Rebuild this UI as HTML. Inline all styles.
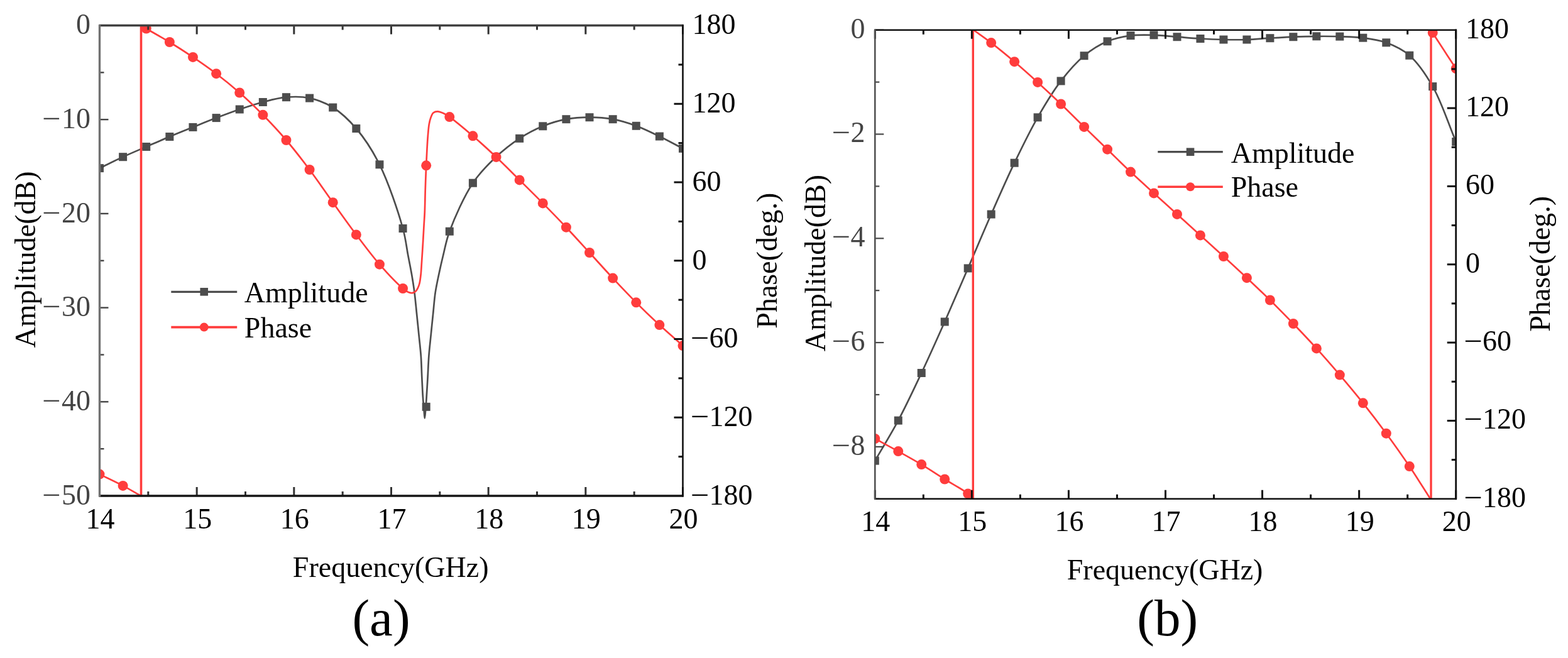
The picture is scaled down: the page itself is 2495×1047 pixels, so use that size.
<!DOCTYPE html>
<html><head><meta charset="utf-8"><title>Amplitude and Phase</title>
<style>html,body{margin:0;padding:0;background:#fff;}body{width:2495px;height:1047px;overflow:hidden;}svg{display:block;}</style></head><body>
<svg width="2495" height="1047" viewBox="0 0 2495 1047">
<rect width="2495" height="1047" fill="#fff"/>
<defs>
<clipPath id="ca"><rect x="158.5" y="40.5" width="928" height="748.5"/></clipPath>
<clipPath id="cb"><rect x="1392.3" y="47.7" width="924.4" height="746.1"/></clipPath>
</defs>
<g clip-path="url(#ca)" fill="none" stroke-linejoin="round" stroke-linecap="round">
<path d="M158.5,267.6 C170.87,261.63 183.19,255.41 195.62,249.7 C207.94,244.04 220.36,238.87 232.74,233.5 C245.11,228.14 257.46,222.69 269.86,217.5 C282.21,212.33 294.6,207.39 306.98,202.4 C319.34,197.42 331.69,192.35 344.1,187.6 C356.44,182.88 368.79,178.2 381.22,174 C393.54,169.84 405.89,165.73 418.34,162.5 C430.64,159.31 443.02,155.76 455.46,154.7 C467.77,153.65 480.43,153.51 492.58,156.1 C505.19,158.78 517.94,163.66 529.7,171 C542.84,179.2 555.27,190.95 566.82,204.5 C580.32,220.34 592.69,239.24 603.94,261.8 C618.1,290.21 633.64,336.68 641.06,363.5 C645.74,380.42 646.73,392.93 649.2,405.8 C651.27,416.6 653.18,425.65 654.9,435.6 C656.61,445.52 658.18,455.27 659.5,465.4 C660.86,475.89 661.77,486.61 662.9,497.5 C664.07,508.77 665.25,520.43 666.4,531.9 C667.55,543.37 668.98,554.88 669.8,566.3 C670.61,577.58 670.77,588.95 671.3,600 C671.81,610.7 672.27,622.22 672.9,631.6 C673.41,639.15 674.07,645.9 674.6,652 C675.03,656.96 675.37,665.5 675.8,665.5 C676.23,665.5 676.76,656.97 677.2,652 C677.74,645.9 678.2,639.14 678.7,631.6 C679.33,622.22 679.99,610.7 680.6,600 C681.23,588.95 681.54,577.58 682.4,566.3 C683.27,554.88 684.65,543.37 685.8,531.9 C686.95,520.43 688.13,508.77 689.3,497.5 C690.43,486.61 691.13,475.87 692.7,465.4 C694.22,455.25 696.4,445.52 698.5,435.6 C700.6,425.65 702.71,416.29 705.3,405.8 C708.22,393.97 709.95,382.66 715.3,368.2 C723.24,346.77 738.42,312.18 752.42,291.2 C763.73,274.24 776.6,261.67 789.54,249.5 C801.44,238.3 813.9,228.57 826.66,220.3 C838.69,212.5 851.15,205.95 863.78,200.8 C875.92,195.85 888.4,192.05 900.9,189.7 C913.15,187.4 925.65,186.7 938.02,186.7 C950.39,186.7 962.88,187.48 975.14,189.7 C987.63,191.96 1000.05,195.84 1012.26,200.3 C1024.8,204.88 1037.09,211.05 1049.38,217 C1061.84,223.04 1074.13,229.87 1086.5,236.3" stroke="#4d4d4d" stroke-width="2.7"/>
<g fill="#4d4d4d" stroke="none"><rect x="152" y="261.1" width="13" height="13"/><rect x="189.12" y="243.2" width="13" height="13"/><rect x="226.24" y="227" width="13" height="13"/><rect x="263.36" y="211" width="13" height="13"/><rect x="300.48" y="195.9" width="13" height="13"/><rect x="337.6" y="181.1" width="13" height="13"/><rect x="374.72" y="167.5" width="13" height="13"/><rect x="411.84" y="156" width="13" height="13"/><rect x="448.96" y="148.2" width="13" height="13"/><rect x="486.08" y="149.6" width="13" height="13"/><rect x="523.2" y="164.5" width="13" height="13"/><rect x="560.32" y="198" width="13" height="13"/><rect x="597.44" y="255.3" width="13" height="13"/><rect x="634.56" y="357" width="13" height="13"/><rect x="671.68" y="640.8" width="13" height="13"/><rect x="708.8" y="361.7" width="13" height="13"/><rect x="745.92" y="284.7" width="13" height="13"/><rect x="783.04" y="243" width="13" height="13"/><rect x="820.16" y="213.8" width="13" height="13"/><rect x="857.28" y="194.3" width="13" height="13"/><rect x="894.4" y="183.2" width="13" height="13"/><rect x="931.52" y="180.2" width="13" height="13"/><rect x="968.64" y="183.2" width="13" height="13"/><rect x="1005.76" y="193.8" width="13" height="13"/><rect x="1042.88" y="210.5" width="13" height="13"/><rect x="1080" y="229.8" width="13" height="13"/></g>
<path d="M158.5,754.6 C170.87,760.7 184.16,766.83 195.62,772.9 C205.8,778.29 214.54,783.63 224,789" stroke="#ff3c3c" stroke-width="2.7"/>
<path d="M224.5,789 V40.5" stroke="#ff3c3c" stroke-width="3.6" stroke-linecap="butt"/>
<path d="M225,40.5 C227.58,42.17 229.16,43.31 232.74,45.5 C240.46,50.23 257.57,59.49 269.86,67 C282.32,74.62 294.7,82.6 306.98,90.9 C319.45,99.32 331.88,107.9 344.1,117.2 C356.64,126.74 369.05,136.77 381.22,147.5 C393.81,158.59 406.16,170.44 418.34,182.8 C430.92,195.57 443.35,208.83 455.46,223 C468.13,237.82 480.41,253.76 492.58,270 C505.17,286.79 517.29,304.91 529.7,322.2 C542.03,339.38 554.29,356.79 566.82,373.4 C579.04,389.6 591.17,406.07 603.94,420.7 C615.96,434.48 632.65,451.97 641.06,459 C644.84,462.16 647.21,463.84 650,465 C652.11,465.88 654.08,466.45 656,466.2 C657.92,465.95 660.01,464.83 661.5,463.5 C663.03,462.13 664.02,460 665,458 C666.05,455.86 666.8,453.77 667.5,451 C668.46,447.17 669.04,442.08 669.6,437 C670.26,431 670.5,424.78 671,417.3 C671.67,407.42 672.57,393.44 673.2,382.9 C673.74,373.93 674.15,365.89 674.6,358 C675.01,350.86 675.47,345.43 675.8,337.6 C676.25,326.97 676.4,312.46 676.8,300 C677.2,287.69 677.69,274.53 678.18,263.3 C678.6,253.78 679.03,245.09 679.5,236.9 C679.91,229.77 680.24,223.51 680.8,216.9 C681.35,210.38 681.82,202.95 682.8,197.5 C683.53,193.44 684.28,190.14 685.5,187 C686.58,184.22 687.58,181.09 689.5,179.5 C691.25,178.05 693.78,177.41 696.2,177.4 C699.07,177.39 702.52,178.93 705.6,180.3 C708.9,181.77 711.16,183.2 715.3,186.1 C723.82,192.07 740.18,205.8 752.42,216.3 C764.94,227.04 777.28,238.34 789.54,249.9 C802.04,261.69 814.31,274.17 826.66,286.4 C839.05,298.67 851.46,310.91 863.78,323.4 C876.21,336 888.61,348.69 900.9,361.7 C913.36,374.88 925.66,388.53 938.02,402 C950.41,415.5 962.69,429.3 975.14,442.6 C987.44,455.73 999.76,468.77 1012.26,481.3 C1024.51,493.59 1036.89,505.53 1049.38,517.1 C1061.64,528.45 1074.13,539.1 1086.5,550.1" stroke="#ff3c3c" stroke-width="2.7"/>
<g fill="#ff3c3c" stroke="none"><circle cx="158.5" cy="754.6" r="8.0"/><circle cx="195.62" cy="772.9" r="8.0"/><circle cx="232.74" cy="45.5" r="8.0"/><circle cx="269.86" cy="67" r="8.0"/><circle cx="306.98" cy="90.9" r="8.0"/><circle cx="344.1" cy="117.2" r="8.0"/><circle cx="381.22" cy="147.5" r="8.0"/><circle cx="418.34" cy="182.8" r="8.0"/><circle cx="455.46" cy="223" r="8.0"/><circle cx="492.58" cy="270" r="8.0"/><circle cx="529.7" cy="322.2" r="8.0"/><circle cx="566.82" cy="373.4" r="8.0"/><circle cx="603.94" cy="420.7" r="8.0"/><circle cx="641.06" cy="459" r="8.0"/><circle cx="678.18" cy="263.3" r="8.0"/><circle cx="715.3" cy="186.1" r="8.0"/><circle cx="752.42" cy="216.3" r="8.0"/><circle cx="789.54" cy="249.9" r="8.0"/><circle cx="826.66" cy="286.4" r="8.0"/><circle cx="863.78" cy="323.4" r="8.0"/><circle cx="900.9" cy="361.7" r="8.0"/><circle cx="938.02" cy="402" r="8.0"/><circle cx="975.14" cy="442.6" r="8.0"/><circle cx="1012.26" cy="481.3" r="8.0"/><circle cx="1049.38" cy="517.1" r="8.0"/><circle cx="1086.5" cy="550.1" r="8.0"/></g>
</g>
<g clip-path="url(#cb)" fill="none" stroke-linejoin="round" stroke-linecap="round">
<path d="M1392.3,733.1 C1404.63,711.77 1417.33,691.54 1429.28,669.1 C1442.03,645.16 1454.11,619.26 1466.25,593.5 C1478.77,566.93 1491.01,539.51 1503.23,512 C1515.67,483.99 1527.9,455.34 1540.2,426.9 C1552.55,398.34 1564.73,369.23 1577.18,341 C1589.38,313.34 1601.51,285.49 1614.16,259.2 C1626.19,234.18 1638.24,209.3 1651.13,186.8 C1662.98,166.12 1674.99,145.94 1688.11,128.9 C1699.8,113.7 1711.97,99.54 1725.08,88.7 C1736.78,79.03 1749.3,71.18 1762.06,65.8 C1774,60.76 1786.62,58.26 1799.04,56.6 C1811.27,54.97 1823.7,55.45 1836.01,55.8 C1848.35,56.15 1860.66,57.75 1872.99,58.7 C1885.31,59.65 1897.63,60.78 1909.96,61.5 C1922.28,62.22 1934.61,62.75 1946.94,63 C1959.26,63.25 1971.6,63.38 1983.92,63 C1996.25,62.62 2008.57,61.42 2020.89,60.7 C2033.22,59.98 2045.54,59.18 2057.87,58.7 C2070.19,58.22 2082.52,57.9 2094.84,57.8 C2107.17,57.7 2119.5,57.7 2131.82,58.1 C2144.15,58.5 2156.53,58.6 2168.8,60.2 C2181.18,61.82 2193.77,63.37 2205.77,67.8 C2218.46,72.48 2231.39,78.31 2242.75,88.2 C2256.48,100.15 2268.47,117.97 2279.72,137.6 C2293.71,162.01 2304.37,196.2 2316.7,225.5" stroke="#4d4d4d" stroke-width="2.7"/>
<g fill="#4d4d4d" stroke="none"><rect x="1385.8" y="726.6" width="13" height="13"/><rect x="1422.78" y="662.6" width="13" height="13"/><rect x="1459.75" y="587" width="13" height="13"/><rect x="1496.73" y="505.5" width="13" height="13"/><rect x="1533.7" y="420.4" width="13" height="13"/><rect x="1570.68" y="334.5" width="13" height="13"/><rect x="1607.66" y="252.7" width="13" height="13"/><rect x="1644.63" y="180.3" width="13" height="13"/><rect x="1681.61" y="122.4" width="13" height="13"/><rect x="1718.58" y="82.2" width="13" height="13"/><rect x="1755.56" y="59.3" width="13" height="13"/><rect x="1792.54" y="50.1" width="13" height="13"/><rect x="1829.51" y="49.3" width="13" height="13"/><rect x="1866.49" y="52.2" width="13" height="13"/><rect x="1903.46" y="55" width="13" height="13"/><rect x="1940.44" y="56.5" width="13" height="13"/><rect x="1977.42" y="56.5" width="13" height="13"/><rect x="2014.39" y="54.2" width="13" height="13"/><rect x="2051.37" y="52.2" width="13" height="13"/><rect x="2088.34" y="51.3" width="13" height="13"/><rect x="2125.32" y="51.6" width="13" height="13"/><rect x="2162.3" y="53.7" width="13" height="13"/><rect x="2199.27" y="61.3" width="13" height="13"/><rect x="2236.25" y="81.7" width="13" height="13"/><rect x="2273.22" y="131.1" width="13" height="13"/><rect x="2310.2" y="219" width="13" height="13"/></g>
<path d="M1392.3,698 C1404.63,704.7 1416.98,711.27 1429.28,718.1 C1441.63,724.97 1454.01,731.76 1466.25,739.1 C1478.67,746.55 1490.89,754.74 1503.23,762.5 C1515.54,770.24 1532.98,779.37 1540.2,785.6 C1543.8,788.7 1544.87,791.07 1547.2,793.8" stroke="#ff3c3c" stroke-width="2.7"/>
<path d="M1548.3,793.8 V47.7" stroke="#ff3c3c" stroke-width="3.4" stroke-linecap="butt"/>
<path d="M1549,47.7 C1558.39,54.5 1567.26,60.48 1577.18,68.1 C1588.79,77.02 1601.94,87.83 1614.16,98.2 C1626.59,108.75 1638.88,119.76 1651.13,130.9 C1663.54,142.19 1675.86,153.74 1688.11,165.5 C1700.51,177.4 1712.73,189.84 1725.08,201.9 C1737.38,213.91 1749.74,225.75 1762.06,237.7 C1774.39,249.65 1786.62,261.9 1799.04,273.6 C1811.28,285.13 1823.67,296.17 1836.01,307.4 C1848.32,318.61 1860.66,329.73 1872.99,340.9 C1885.31,352.07 1897.64,363.22 1909.96,374.4 C1922.29,385.59 1934.64,396.72 1946.94,408 C1959.29,419.32 1971.64,430.66 1983.92,442.2 C1996.29,453.83 2008.66,465.46 2020.89,477.5 C2033.31,489.72 2045.62,502.27 2057.87,515 C2070.27,527.9 2082.63,540.93 2094.84,554.4 C2107.29,568.12 2119.6,582.24 2131.82,596.6 C2144.25,611.2 2156.62,625.98 2168.8,641.3 C2181.28,657 2193.6,673.13 2205.77,689.7 C2218.26,706.7 2230.93,724.56 2242.75,742.1 C2254.32,759.27 2264.92,776.57 2276,793.8" stroke="#ff3c3c" stroke-width="2.7"/>
<path d="M2277,793.8 V47.7" stroke="#ff3c3c" stroke-width="3.4" stroke-linecap="butt"/>
<path d="M2277.6,47.7 C2278.31,49.13 2278.48,49.81 2279.72,52 C2284.42,60.26 2304.37,90.07 2316.7,109.1" stroke="#ff3c3c" stroke-width="2.7"/>
<g fill="#ff3c3c" stroke="none"><circle cx="1392.3" cy="698" r="8.0"/><circle cx="1429.28" cy="718.1" r="8.0"/><circle cx="1466.25" cy="739.1" r="8.0"/><circle cx="1503.23" cy="762.5" r="8.0"/><circle cx="1540.2" cy="785.6" r="8.0"/><circle cx="1577.18" cy="68.1" r="8.0"/><circle cx="1614.16" cy="98.2" r="8.0"/><circle cx="1651.13" cy="130.9" r="8.0"/><circle cx="1688.11" cy="165.5" r="8.0"/><circle cx="1725.08" cy="201.9" r="8.0"/><circle cx="1762.06" cy="237.7" r="8.0"/><circle cx="1799.04" cy="273.6" r="8.0"/><circle cx="1836.01" cy="307.4" r="8.0"/><circle cx="1872.99" cy="340.9" r="8.0"/><circle cx="1909.96" cy="374.4" r="8.0"/><circle cx="1946.94" cy="408" r="8.0"/><circle cx="1983.92" cy="442.2" r="8.0"/><circle cx="2020.89" cy="477.5" r="8.0"/><circle cx="2057.87" cy="515" r="8.0"/><circle cx="2094.84" cy="554.4" r="8.0"/><circle cx="2131.82" cy="596.6" r="8.0"/><circle cx="2168.8" cy="641.3" r="8.0"/><circle cx="2205.77" cy="689.7" r="8.0"/><circle cx="2242.75" cy="742.1" r="8.0"/><circle cx="2279.72" cy="52" r="8.0"/><circle cx="2316.7" cy="109.1" r="8.0"/></g>
</g>
<path d="M158.5,789 V775 M158.5,40.5 V54.5" stroke="#333" stroke-width="3"/>
<path d="M235.83,789 V782 M235.83,40.5 V47.5" stroke="#333" stroke-width="3"/>
<path d="M313.17,789 V775 M313.17,40.5 V54.5" stroke="#333" stroke-width="3"/>
<path d="M390.5,789 V782 M390.5,40.5 V47.5" stroke="#333" stroke-width="3"/>
<path d="M467.83,789 V775 M467.83,40.5 V54.5" stroke="#333" stroke-width="3"/>
<path d="M545.17,789 V782 M545.17,40.5 V47.5" stroke="#333" stroke-width="3"/>
<path d="M622.5,789 V775 M622.5,40.5 V54.5" stroke="#333" stroke-width="3"/>
<path d="M699.83,789 V782 M699.83,40.5 V47.5" stroke="#333" stroke-width="3"/>
<path d="M777.17,789 V775 M777.17,40.5 V54.5" stroke="#333" stroke-width="3"/>
<path d="M854.5,789 V782 M854.5,40.5 V47.5" stroke="#333" stroke-width="3"/>
<path d="M931.83,789 V775 M931.83,40.5 V54.5" stroke="#333" stroke-width="3"/>
<path d="M1009.17,789 V782 M1009.17,40.5 V47.5" stroke="#333" stroke-width="3"/>
<path d="M1086.5,789 V775 M1086.5,40.5 V54.5" stroke="#333" stroke-width="3"/>
<path d="M1086.5,102.88 H1079.5" stroke="#111" stroke-width="3"/>
<path d="M1086.5,165.25 H1072.5" stroke="#111" stroke-width="3"/>
<path d="M1086.5,227.62 H1079.5" stroke="#111" stroke-width="3"/>
<path d="M1086.5,290 H1072.5" stroke="#111" stroke-width="3"/>
<path d="M1086.5,352.38 H1079.5" stroke="#111" stroke-width="3"/>
<path d="M1086.5,414.75 H1072.5" stroke="#111" stroke-width="3"/>
<path d="M1086.5,477.12 H1079.5" stroke="#111" stroke-width="3"/>
<path d="M1086.5,539.5 H1072.5" stroke="#111" stroke-width="3"/>
<path d="M1086.5,601.88 H1079.5" stroke="#111" stroke-width="3"/>
<path d="M1086.5,664.25 H1072.5" stroke="#111" stroke-width="3"/>
<path d="M1086.5,726.62 H1079.5" stroke="#111" stroke-width="3"/>
<path d="M158.5,40.5 H172.5" stroke="#444" stroke-width="2.4"/>
<path d="M158.5,190.2 H172.5" stroke="#444" stroke-width="2.4"/>
<path d="M158.5,339.9 H172.5" stroke="#444" stroke-width="2.4"/>
<path d="M158.5,489.6 H172.5" stroke="#444" stroke-width="2.4"/>
<path d="M158.5,639.3 H172.5" stroke="#444" stroke-width="2.4"/>
<path d="M158.5,789 H172.5" stroke="#444" stroke-width="2.4"/>
<path d="M158.5,115.35 H165.5" stroke="#444" stroke-width="2.4"/>
<path d="M158.5,265.05 H165.5" stroke="#444" stroke-width="2.4"/>
<path d="M158.5,414.75 H165.5" stroke="#444" stroke-width="2.4"/>
<path d="M158.5,564.45 H165.5" stroke="#444" stroke-width="2.4"/>
<path d="M158.5,714.15 H165.5" stroke="#444" stroke-width="2.4"/>
<path d="M157.5,40.5 H1087.7" stroke="#404040" stroke-width="3.4"/>
<path d="M157.5,789 H1087.7" stroke="#151515" stroke-width="3.6"/>
<path d="M1086.5,39.3 V790.5" stroke="#111" stroke-width="2.6"/>
<path d="M158.5,39.3 V790.5" stroke="#727272" stroke-width="3.4"/>
<path d="M1392.3,793.8 V779.8 M1392.3,47.7 V61.7" stroke="#111" stroke-width="3"/>
<path d="M1469.33,793.8 V786.8 M1469.33,47.7 V54.7" stroke="#111" stroke-width="3"/>
<path d="M1546.37,793.8 V779.8 M1546.37,47.7 V61.7" stroke="#111" stroke-width="3"/>
<path d="M1623.4,793.8 V786.8 M1623.4,47.7 V54.7" stroke="#111" stroke-width="3"/>
<path d="M1700.43,793.8 V779.8 M1700.43,47.7 V61.7" stroke="#111" stroke-width="3"/>
<path d="M1777.47,793.8 V786.8 M1777.47,47.7 V54.7" stroke="#111" stroke-width="3"/>
<path d="M1854.5,793.8 V779.8 M1854.5,47.7 V61.7" stroke="#111" stroke-width="3"/>
<path d="M1931.53,793.8 V786.8 M1931.53,47.7 V54.7" stroke="#111" stroke-width="3"/>
<path d="M2008.57,793.8 V779.8 M2008.57,47.7 V61.7" stroke="#111" stroke-width="3"/>
<path d="M2085.6,793.8 V786.8 M2085.6,47.7 V54.7" stroke="#111" stroke-width="3"/>
<path d="M2162.63,793.8 V779.8 M2162.63,47.7 V61.7" stroke="#111" stroke-width="3"/>
<path d="M2239.67,793.8 V786.8 M2239.67,47.7 V54.7" stroke="#111" stroke-width="3"/>
<path d="M2316.7,793.8 V779.8 M2316.7,47.7 V61.7" stroke="#111" stroke-width="3"/>
<path d="M2316.7,109.88 H2309.7" stroke="#111" stroke-width="3"/>
<path d="M2316.7,172.05 H2302.7" stroke="#111" stroke-width="3"/>
<path d="M2316.7,234.22 H2309.7" stroke="#111" stroke-width="3"/>
<path d="M2316.7,296.4 H2302.7" stroke="#111" stroke-width="3"/>
<path d="M2316.7,358.57 H2309.7" stroke="#111" stroke-width="3"/>
<path d="M2316.7,420.75 H2302.7" stroke="#111" stroke-width="3"/>
<path d="M2316.7,482.92 H2309.7" stroke="#111" stroke-width="3"/>
<path d="M2316.7,545.1 H2302.7" stroke="#111" stroke-width="3"/>
<path d="M2316.7,607.27 H2309.7" stroke="#111" stroke-width="3"/>
<path d="M2316.7,669.45 H2302.7" stroke="#111" stroke-width="3"/>
<path d="M2316.7,731.62 H2309.7" stroke="#111" stroke-width="3"/>
<path d="M1392.3,47.7 H1406.3" stroke="#484848" stroke-width="2.2"/>
<path d="M1392.3,213.5 H1406.3" stroke="#484848" stroke-width="2.2"/>
<path d="M1392.3,379.3 H1406.3" stroke="#484848" stroke-width="2.2"/>
<path d="M1392.3,545.1 H1406.3" stroke="#484848" stroke-width="2.2"/>
<path d="M1392.3,710.9 H1406.3" stroke="#484848" stroke-width="2.2"/>
<path d="M1392.3,130.6 H1399.3" stroke="#484848" stroke-width="2.2"/>
<path d="M1392.3,296.4 H1399.3" stroke="#484848" stroke-width="2.2"/>
<path d="M1392.3,462.2 H1399.3" stroke="#484848" stroke-width="2.2"/>
<path d="M1392.3,628 H1399.3" stroke="#484848" stroke-width="2.2"/>
<path d="M1392.3,793.8 H1399.3" stroke="#484848" stroke-width="2.2"/>
<path d="M1391.3,47.7 H2317.9" stroke="#111" stroke-width="2.6"/>
<path d="M1391.3,793.8 H2317.9" stroke="#111" stroke-width="2.6"/>
<path d="M2316.7,46.5 V795.3" stroke="#111" stroke-width="2.8"/>
<path d="M1392.3,46.5 V795.3" stroke="#525252" stroke-width="2.6"/>
<path d="M272.3,464.3 H377.2" stroke="#4d4d4d" stroke-width="3.3"/>
<rect x="318.45" y="458" width="12.6" height="12.6" fill="#4d4d4d"/>
<path d="M272.3,520.6 H377.2" stroke="#ff3c3c" stroke-width="3.6"/>
<circle cx="324.75" cy="520.6" r="7" fill="#ff3c3c"/>
<path d="M1842.3,241.7 H1945.8" stroke="#4d4d4d" stroke-width="3.3"/>
<rect x="1887.75" y="235.4" width="12.6" height="12.6" fill="#4d4d4d"/>
<path d="M1842.3,297.2 H1945.8" stroke="#ff3c3c" stroke-width="3.6"/>
<circle cx="1894.05" cy="297.2" r="7" fill="#ff3c3c"/>
<g font-family="'Liberation Serif', 'Times New Roman', serif">
<text x="144" y="54.3" font-size="46" fill="#444" text-anchor="end">0</text>
<text x="144" y="204" font-size="46" fill="#444" text-anchor="end">10</text>
<text x="67.2" y="204" font-size="46" fill="#444" textLength="29.65" lengthAdjust="spacingAndGlyphs">−</text>
<text x="144" y="353.7" font-size="46" fill="#444" text-anchor="end">20</text>
<text x="67.2" y="353.7" font-size="46" fill="#444" textLength="29.65" lengthAdjust="spacingAndGlyphs">−</text>
<text x="144" y="503.4" font-size="46" fill="#444" text-anchor="end">30</text>
<text x="67.2" y="503.4" font-size="46" fill="#444" textLength="29.65" lengthAdjust="spacingAndGlyphs">−</text>
<text x="144" y="653.1" font-size="46" fill="#444" text-anchor="end">40</text>
<text x="67.2" y="653.1" font-size="46" fill="#444" textLength="29.65" lengthAdjust="spacingAndGlyphs">−</text>
<text x="144" y="802.8" font-size="46" fill="#444" text-anchor="end">50</text>
<text x="67.2" y="802.8" font-size="46" fill="#444" textLength="29.65" lengthAdjust="spacingAndGlyphs">−</text>
<text x="1101.5" y="54.3" font-size="46" fill="#000" text-anchor="start">180</text>
<text x="1101.5" y="179.05" font-size="46" fill="#000" text-anchor="start">120</text>
<text x="1101.5" y="303.8" font-size="46" fill="#000" text-anchor="start">60</text>
<text x="1101.5" y="428.55" font-size="46" fill="#000" text-anchor="start">0</text>
<text x="1128.45" y="553.3" font-size="46" fill="#000" text-anchor="start">60</text>
<text x="1099.1" y="553.3" font-size="46" fill="#000" textLength="29.65" lengthAdjust="spacingAndGlyphs">−</text>
<text x="1128.45" y="678.05" font-size="46" fill="#000" text-anchor="start">120</text>
<text x="1099.1" y="678.05" font-size="46" fill="#000" textLength="29.65" lengthAdjust="spacingAndGlyphs">−</text>
<text x="1128.45" y="802.8" font-size="46" fill="#000" text-anchor="start">180</text>
<text x="1099.1" y="802.8" font-size="46" fill="#000" textLength="29.65" lengthAdjust="spacingAndGlyphs">−</text>
<text x="159.5" y="841" font-size="46" fill="#000" text-anchor="middle">14</text>
<text x="314.17" y="841" font-size="46" fill="#000" text-anchor="middle">15</text>
<text x="468.83" y="841" font-size="46" fill="#000" text-anchor="middle">16</text>
<text x="623.5" y="841" font-size="46" fill="#000" text-anchor="middle">17</text>
<text x="778.17" y="841" font-size="46" fill="#000" text-anchor="middle">18</text>
<text x="932.83" y="841" font-size="46" fill="#000" text-anchor="middle">19</text>
<text x="1087.5" y="841" font-size="46" fill="#000" text-anchor="middle">20</text>
<text x="1376.5" y="60.5" font-size="46" fill="#444" text-anchor="end">0</text>
<text x="1376.5" y="226.3" font-size="46" fill="#444" text-anchor="end">2</text>
<text x="1323.7" y="226.3" font-size="46" fill="#444" textLength="29.65" lengthAdjust="spacingAndGlyphs">−</text>
<text x="1376.5" y="392.1" font-size="46" fill="#444" text-anchor="end">4</text>
<text x="1323.7" y="392.1" font-size="46" fill="#444" textLength="29.65" lengthAdjust="spacingAndGlyphs">−</text>
<text x="1376.5" y="557.9" font-size="46" fill="#444" text-anchor="end">6</text>
<text x="1323.7" y="557.9" font-size="46" fill="#444" textLength="29.65" lengthAdjust="spacingAndGlyphs">−</text>
<text x="1376.5" y="723.7" font-size="46" fill="#444" text-anchor="end">8</text>
<text x="1323.7" y="723.7" font-size="46" fill="#444" textLength="29.65" lengthAdjust="spacingAndGlyphs">−</text>
<text x="2332" y="60.5" font-size="46" fill="#000" text-anchor="start">180</text>
<text x="2332" y="184.85" font-size="46" fill="#000" text-anchor="start">120</text>
<text x="2332" y="309.2" font-size="46" fill="#000" text-anchor="start">60</text>
<text x="2332" y="433.55" font-size="46" fill="#000" text-anchor="start">0</text>
<text x="2358.95" y="557.9" font-size="46" fill="#000" text-anchor="start">60</text>
<text x="2329.6" y="557.9" font-size="46" fill="#000" textLength="29.65" lengthAdjust="spacingAndGlyphs">−</text>
<text x="2358.95" y="682.25" font-size="46" fill="#000" text-anchor="start">120</text>
<text x="2329.6" y="682.25" font-size="46" fill="#000" textLength="29.65" lengthAdjust="spacingAndGlyphs">−</text>
<text x="2358.95" y="806.6" font-size="46" fill="#000" text-anchor="start">180</text>
<text x="2329.6" y="806.6" font-size="46" fill="#000" textLength="29.65" lengthAdjust="spacingAndGlyphs">−</text>
<text x="1393.3" y="845" font-size="46" fill="#000" text-anchor="middle">14</text>
<text x="1547.37" y="845" font-size="46" fill="#000" text-anchor="middle">15</text>
<text x="1701.43" y="845" font-size="46" fill="#000" text-anchor="middle">16</text>
<text x="1855.5" y="845" font-size="46" fill="#000" text-anchor="middle">17</text>
<text x="2009.57" y="845" font-size="46" fill="#000" text-anchor="middle">18</text>
<text x="2163.63" y="845" font-size="46" fill="#000" text-anchor="middle">19</text>
<text x="2317.7" y="845" font-size="46" fill="#000" text-anchor="middle">20</text>
<text transform="translate(55.5,413) rotate(-90)" font-size="46" text-anchor="middle">Amplitude(dB)</text>
<text transform="translate(1235.5,414.7) rotate(-90)" font-size="46" text-anchor="middle">Phase(deg.)</text>
<text transform="translate(1312.5,418.6) rotate(-90)" font-size="46" text-anchor="middle">Amplitude(dB)</text>
<text transform="translate(2465.8,419.8) rotate(-90)" font-size="46" text-anchor="middle">Phase(deg.)</text>
<text x="621.7" y="918" font-size="46" fill="#000" text-anchor="middle">Frequency(GHz)</text>
<text x="1853.6" y="921.6" font-size="46" fill="#000" text-anchor="middle">Frequency(GHz)</text>
<text x="606.5" y="1010.5" font-size="83" fill="#000" text-anchor="middle" stroke="none">(a)</text>
<text x="1857.7" y="1010.5" font-size="83" fill="#000" text-anchor="middle" stroke="none">(b)</text>
<text x="388.8" y="481.1" font-size="46" fill="#000" text-anchor="start">Amplitude</text>
<text x="388.8" y="536.6" font-size="46" fill="#000" text-anchor="start">Phase</text>
<text x="1958.7" y="258.5" font-size="46" fill="#000" text-anchor="start">Amplitude</text>
<text x="1958.7" y="313.2" font-size="46" fill="#000" text-anchor="start">Phase</text>
</g>
</svg></body></html>
